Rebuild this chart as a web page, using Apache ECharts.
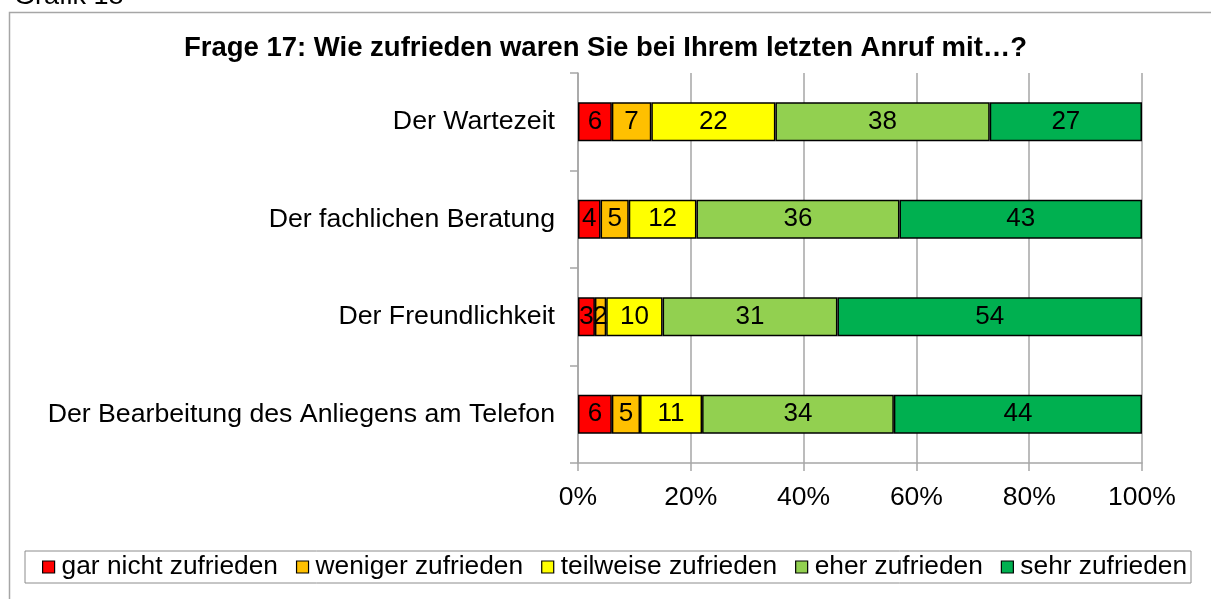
<!DOCTYPE html>
<html>
<head>
<meta charset="utf-8">
<script src="https://cdn.jsdelivr.net/npm/echarts@6/dist/echarts.min.js"></script>
<style>
html,body{margin:0;padding:0;background:#fff;}
#c{width:1211px;height:599px;}
</style>
</head>
<body>
<div id="c"></div>
<script>
const categories = ["Der Wartezeit", "Der fachlichen Beratung", "Der Freundlichkeit", "Der Bearbeitung des Anliegens am Telefon"];
const seriesNames = ["gar nicht zufrieden", "weniger zufrieden", "teilweise zufrieden", "eher zufrieden", "sehr zufrieden"];
const garNicht = [6, 4, 3, 6];
const weniger = [7, 5, 2, 5];
const teilweise = [22, 12, 10, 11];
const eher = [38, 36, 31, 34];
const sehr = [27, 43, 54, 44];
const xTicks = [0, 20, 40, 60, 80, 100];
const colors = ["#FF0000", "#FFC000", "#FFFF00", "#92D050", "#00B050"];
const values = [garNicht, weniger, teilweise, eher, sehr];

const FONT = "Liberation Sans, Arial, sans-serif";
const chart = echarts.init(document.getElementById('c'), null, {renderer: 'canvas'});
const option = {
  animation: false,
  textStyle: {fontFamily: FONT},
  title: {
    text: "Frage 17: Wie zufrieden waren Sie bei Ihrem letzten Anruf mit…?",
    left: 'center', top: 29,
    textStyle: {fontFamily: FONT, fontSize: 27.5, fontWeight: 'bold', color: '#000'}
  },
  graphic: [
    {type: 'rect', shape: {x: 9.5, y: 12.5, width: 1300, height: 700}, style: {fill: 'none', stroke: '#A6A6A6', lineWidth: 1.5}, z: -1},
    {type: 'text', x: 14, y: -3.5, style: {text: 'Grafik 18', font: '27px ' + FONT, fill: '#000', verticalAlign: 'middle', textVerticalAlign: 'middle'}}
  ],
  legend: {
    left: 25, top: 551,
    data: seriesNames,
    icon: 'rect', itemWidth: 12, itemHeight: 12, itemGap: 18,
    padding: [3, 4, 3, 17],
    borderColor: '#8C8C8C', borderWidth: 1,
    textStyle: {fontFamily: FONT, fontSize: 26.3, color: '#000', padding: [0, 0, 0, 2]},
    itemStyle: {borderColor: '#000', borderWidth: 1.2}
  },
  grid: {left: 578, right: 69, top: 73, bottom: 136, containLabel: false},
  xAxis: {
    type: 'value', min: 0, max: 100, interval: 20,
    axisLine: {show: true, lineStyle: {color: '#A6A6A6', width: 1.5}},
    axisTick: {show: true, length: 8, lineStyle: {color: '#A6A6A6', width: 1.5}},
    splitLine: {show: true, lineStyle: {color: '#A6A6A6', width: 1.5}},
    axisLabel: {formatter: v => xTicks.includes(v) ? v + '%' : '', fontFamily: FONT, fontSize: 26.5, color: '#000', margin: 21}
  },
  yAxis: {
    type: 'category', data: categories, inverse: true,
    axisLine: {show: true, lineStyle: {color: '#A6A6A6', width: 1.5}},
    axisTick: {show: true, length: 8, lineStyle: {color: '#A6A6A6', width: 1.5}},
    axisLabel: {fontFamily: FONT, fontSize: 26.7, color: '#000', margin: 23}
  },
  series: seriesNames.map((name, i) => ({
    name: name, type: 'bar', stack: 'total', barWidth: 39,
    data: values[i],
    itemStyle: {color: colors[i], borderColor: '#000', borderWidth: 1.5},
    label: {show: true, position: 'inside', fontFamily: FONT, fontSize: 26, color: '#000'}
  }))
};
chart.setOption(option);
</script>
</body>
</html>
